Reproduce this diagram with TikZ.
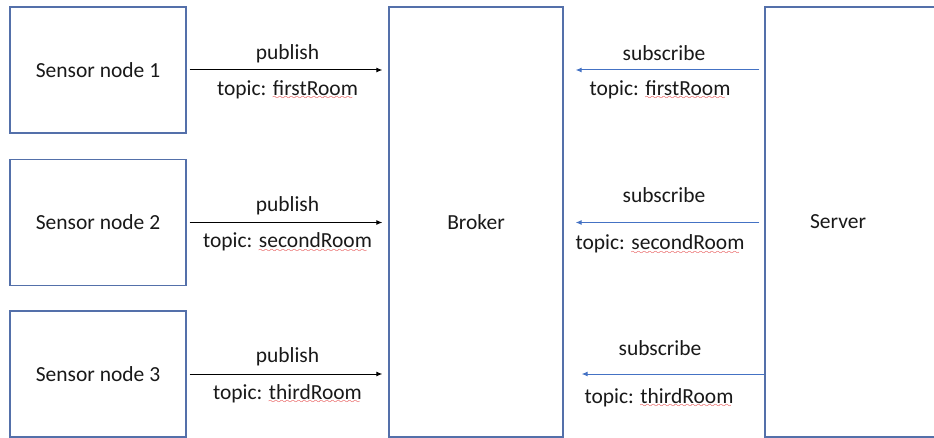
\documentclass[tikz,border=0pt]{standalone}
\usepackage{fontspec}
\setmainfont{Carlito}
\usetikzlibrary{positioning, arrows.meta}

\definecolor{boxblue}{RGB}{84,112,170}
\definecolor{subblue}{RGB}{68,114,196}
\definecolor{txt}{RGB}{25,25,25}

% red spell-check wave under a word
\font\wavefont=lasy8
\newcommand{\redwave}[1]{\setbox0\hbox{#1}\rlap{\raisebox{-4.5pt}{\color{red!85!black}\wavefont\leaders\hbox{\char58}\hskip\wd0}}\box0}

\begin{document}
\begin{tikzpicture}[>={Latex[length=6pt,width=5pt]}, x=1pt, y=-1pt,
    every node/.style={font=\fontsize{21.5}{25}\selectfont, text=txt},
    box/.style={draw=boxblue, line width=1.3pt, minimum width=176pt, minimum height=126pt},
    tall/.style={box, minimum height=430pt},
    pub/.style={->, line width=1pt, shorten <=3pt, shorten >=6pt},
    sub/.style={->, draw=subblue, line width=1pt}]
                \useasboundingbox (0,0) rectangle (934,438);
                \clip (0,0) rectangle (934,438);

                % Sensors
                \node[box] (s1) at (98, 70) {Sensor node 1};
                \node[box] (s2) at (98, 222.5) {Sensor node 2};
                \node[box] (s3) at (98, 374) {Sensor node 3};

                % Broker and server
                \node[tall, minimum width=174pt] (broker) at (476, 222) {Broker};
                \node[tall, minimum width=180pt, label={[xshift=-17pt]center:Server}] (server) at (855, 222) {};

                % Publish
                \draw[pub] (s1) -- (s1 -| broker.west) node[midway, yshift=16pt] {publish} node[midway, yshift=-20pt] {topic: \redwave{firstRoom}};
                \draw[pub] (s2) -- (s2 -| broker.west) node[midway, yshift=17pt] {publish} node[midway, yshift=-20pt] {topic: \redwave{secondRoom}};
                \draw[pub] (s3) -- (s3 -| broker.west) node[midway, yshift=17pt] {publish} node[midway, yshift=-20pt] {topic: \redwave{thirdRoom}};

                % Subscribe
                \draw[sub, shorten <=5pt, shorten >=12pt] (server.west |- s1) -- (broker.east |- s1) node[midway, yshift=17pt] {subscribe} node[midway, xshift=-4pt, yshift=-20pt] {topic: \redwave{firstRoom}};
                \draw[sub, shorten <=5pt, shorten >=12pt] (server.west |- s2) -- (broker.east |- s2) node[midway, yshift=27pt] {subscribe} node[midway, xshift=-4pt, yshift=-22pt] {topic: \redwave{secondRoom}};
                \draw[sub, shorten >=18pt] (server.west |- s3) -- (broker.east |- s3) node[midway, xshift=-4pt, yshift=26pt] {subscribe} node[midway, xshift=-5pt, yshift=-24pt] {topic: \redwave{thirdRoom}};
\end{tikzpicture}
\end{document}
